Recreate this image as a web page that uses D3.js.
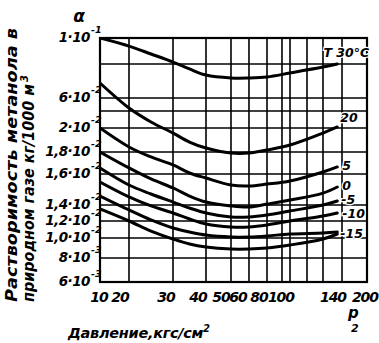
<!DOCTYPE html>
<html><head><meta charset="utf-8">
<script src="https://cdn.jsdelivr.net/npm/d3@7"></script>
<style>
body{margin:0;background:#fff}
text{font-family:"DejaVu Sans",sans-serif;font-style:italic;font-weight:bold;fill:#000}
</style></head><body><svg id="c" width="379" height="343"></svg>
<script>
// ---- data ----
const pressureGrid = [10, 20, 30, 40, 50, 60, 80, 90, 100, 110, 120, 140, 200];
const pressureTicks = [10, 20, 30, 40, 50, 60, 80, 100, 140, 200];
const solubilityGrid = [0.1, 0.08, 0.06, 0.04, 0.02, 0.018, 0.016, 0.014, 0.012, 0.010, 0.008, 0.006];
const solubilityTicks = [0.1, 0.06, 0.02, 0.018, 0.016, 0.014, 0.012, 0.010, 0.008, 0.006];
const tickMantissa = ["1·10", "6·10", "2·10", "1,8·10", "1,6·10", "1,4·10", "1,2·10", "1,0·10", "8·10", "6·10"];
const tickExponent = ["-1", "-2", "-2", "-2", "-2", "-2", "-2", "-2", "-3", "-3"];
const pressure = [10, 20, 25, 30, 35, 40, 50, 60, 80, 100, 120, 135];
const seriesLabels = ["T 30°C", "20", "5", "0", "-5", "-10", "-15", ""];
const tT30  = [0.1, 0.0938, 0.0877, 0.0815, 0.0771, 0.0735, 0.0718, 0.0718, 0.0724, 0.0747, 0.0782, 0.080];
const tT20  = [0.0688, 0.0446, 0.0271, 0.01958, 0.01883, 0.01833, 0.01791, 0.01791, 0.01817, 0.01858, 0.01958, 0.0212];
const tT5   = [0.020, 0.01842, 0.01755, 0.01682, 0.01609, 0.01574, 0.01529, 0.01523, 0.01535, 0.01555, 0.01618, 0.01664];
const tT0   = [0.018, 0.01655, 0.01568, 0.0151, 0.01458, 0.01419, 0.01388, 0.01375, 0.01406, 0.01432, 0.01477, 0.01516];
const tTm5  = [0.01655, 0.01529, 0.01471, 0.01419, 0.01363, 0.0130, 0.0125, 0.0125, 0.01275, 0.01325, 0.0140, 0.01426];
const tTm10 = [0.01548, 0.01452, 0.01388, 0.0130, 0.01225, 0.01165, 0.0113, 0.0113, 0.01153, 0.0120, 0.01263, 0.0130];
const tTm15 = [0.01458, 0.01338, 0.01213, 0.01118, 0.01071, 0.01035, 0.01012, 0.01012, 0.01024, 0.01047, 0.01059, 0.01071];
const tLow  = [0.0135, 0.0120, 0.01082, 0.0099, 0.0094, 0.0091, 0.0089, 0.0089, 0.0090, 0.0093, 0.0099, 0.01047];
const seriesValues = [tT30, tT20, tT5, tT0, tTm5, tTm10, tTm15, tLow];

// ---- layout ----
const M = {left: 100, top: 38, right: 12, bottom: 61};
const W = 379 - M.left - M.right, H = 343 - M.top - M.bottom;
const xFrac = [0, .1086, .2734, .397, .4906, .558, .6255, .6816, .7116, .7753, .8352, .9064, 1];
const yFrac = [0, .1066, .2459, .2992, .3689, .4672, .5574, .6844, .75, .8197, .9016, 1];
const labelDx = [9, 3, 5, 5, 4, 5, 3, 0];
const labelDy = [-7, -5, 3, 3, 3, 5, 6, 0];
const labelAnchor = ["middle", "start", "start", "start", "start", "start", "start", "start"];
const xTickDx = [-1, -9, -7, -8, -10, -11, -8, -9, -9, -2];

const svg = d3.select("#c");
const x = d3.scaleLinear().domain(pressureGrid).range(xFrac.map(f => M.left + f * W));
const y = d3.scaleLinear().domain(solubilityGrid).range(yFrac.map(f => M.top + f * H));

// grid
const g = svg.append("g");
g.selectAll("line.v").data(pressureGrid).join("line")
  .attr("x1", d => x(d)).attr("x2", d => x(d))
  .attr("y1", M.top).attr("y2", M.top + H)
  .attr("stroke", "#000").attr("stroke-width", 1.6);
g.selectAll("line.h").data(solubilityGrid).join("line")
  .attr("y1", d => y(d)).attr("y2", d => y(d))
  .attr("x1", M.left).attr("x2", M.left + W)
  .attr("stroke", "#000").attr("stroke-width", 1.6);
svg.append("rect").attr("x", M.left).attr("y", M.top).attr("width", W).attr("height", H)
  .attr("fill", "none").attr("stroke", "#000").attr("stroke-width", 2.2);

// curves
const line = d3.line().x((d, i) => x(pressure[i])).y(d => y(d)).curve(d3.curveCatmullRom.alpha(0.5));
svg.append("defs").append("clipPath").attr("id", "clip").append("rect")
  .attr("x", M.left).attr("y", M.top).attr("width", W).attr("height", H);
svg.append("g").attr("clip-path", "url(#clip)").selectAll("path").data(seriesValues).join("path")
  .attr("d", line).attr("fill", "none").attr("stroke", "#000").attr("stroke-width", 3)
  .attr("stroke-linecap", "round");

// curve labels
svg.selectAll("text.sl").data(seriesLabels).join("text")
  .attr("class", "sl")
  .attr("x", (d, i) => x(pressure[pressure.length - 1]) + labelDx[i])
  .attr("y", (d, i) => y(seriesValues[i][seriesValues[i].length - 1]) + labelDy[i])
  .attr("text-anchor", (d, i) => labelAnchor[i])
  .attr("font-size", 12.5)
  .attr("stroke", "#fff").attr("stroke-width", 2.5).attr("paint-order", "stroke")
  .text(d => d);

// x tick labels
svg.selectAll("text.xt").data(pressureTicks).join("text")
  .attr("class", "xt").attr("x", (d, i) => x(d) + xTickDx[i]).attr("y", 302)
  .attr("text-anchor", "middle").attr("font-size", 14).attr("letter-spacing", -1).text(d => d);

// y tick labels
const yt = svg.selectAll("g.yt").data(solubilityTicks).join("g").attr("class", "yt");
yt.append("text").attr("x", M.left - 10).attr("y", d => y(d) + 4)
  .attr("text-anchor", "end").attr("font-size", 13.5).attr("letter-spacing", -0.5).text((d, i) => tickMantissa[i]);
yt.append("text").attr("x", M.left - 9).attr("y", d => y(d) - 5)
  .attr("text-anchor", "start").attr("font-size", 9.5).text((d, i) => tickExponent[i]);

// axis symbols and titles
svg.append("text").attr("x", 79).attr("y", 22).attr("text-anchor", "middle").attr("font-size", 17).text("α");
svg.append("text").attr("x", 348).attr("y", 318).attr("font-size", 15).text("p");
svg.append("text").attr("x", 351).attr("y", 332).attr("font-size", 11).text("2");
const xt = svg.append("text").attr("x", 68).attr("y", 338).attr("font-size", 14.5).attr("letter-spacing", -0.3);
xt.append("tspan").text("Давление,кгс/см");
xt.append("tspan").attr("font-size", 10).attr("dy", -6).text("2");

svg.append("text").attr("transform", "translate(17,302) rotate(-90)")
  .attr("font-size", 16).attr("textLength", 274).attr("lengthAdjust", "spacingAndGlyphs")
  .text("Растворимость метанола в");
svg.append("text").attr("transform", "translate(34,302) rotate(-90)")
  .attr("font-size", 16).attr("textLength", 218).attr("lengthAdjust", "spacingAndGlyphs")
  .text("природном газе кг/1000 м");
svg.append("text").attr("transform", "translate(28,82) rotate(-90)")
  .attr("font-size", 10).text("3");
</script></body></html>
